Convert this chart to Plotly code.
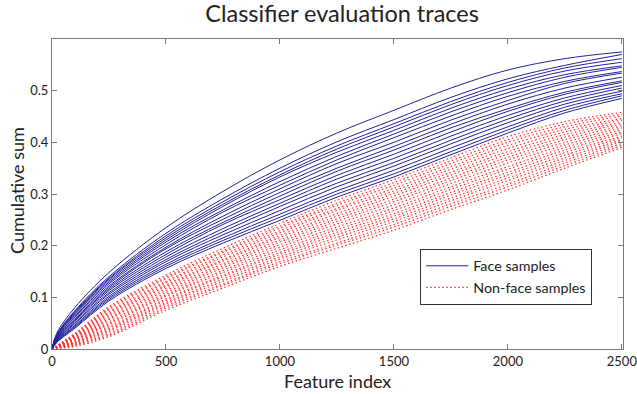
import plotly.graph_objects as go

feature_idx = [0, 20, 100, 250, 500, 750, 1000, 1250, 1500, 1750, 2000, 2250, 2500]

# Face samples (solid blue traces)
face_traces = [
    [0, .030, .080, .148, .235, .305, .366, .418, .462, .505, .540, .562, .575],
    [0, .027, .074, .140, .224, .291, .350, .401, .444, .487, .523, .549, .570],
    [0, .026, .072, .137, .219, .285, .343, .393, .436, .479, .516, .544, .562],
    [0, .026, .070, .135, .215, .280, .337, .387, .430, .473, .510, .538, .555],
    [0, .025, .068, .132, .211, .276, .333, .381, .423, .466, .503, .531, .548],
    [0, .024, .066, .129, .207, .269, .324, .373, .416, .459, .496, .526, .545],
    [0, .022, .063, .126, .202, .265, .317, .366, .409, .451, .489, .518, .537],
    [0, .021, .061, .122, .197, .257, .310, .359, .400, .443, .481, .514, .534],
    [0, .020, .058, .119, .194, .251, .303, .350, .392, .435, .474, .505, .526],
    [0, .019, .056, .116, .188, .245, .296, .344, .385, .428, .465, .497, .519],
    [0, .018, .054, .113, .183, .241, .289, .336, .377, .420, .460, .493, .516],
    [0, .017, .051, .109, .178, .233, .282, .329, .369, .412, .452, .486, .510],
    [0, .016, .049, .106, .173, .227, .276, .321, .361, .404, .445, .480, .505],
    [0, .015, .046, .102, .169, .221, .268, .314, .354, .397, .438, .474, .499],
    [0, .014, .044, .099, .164, .215, .261, .306, .346, .389, .430, .468, .494],
    [0, .013, .042, .096, .160, .210, .255, .300, .339, .382, .424, .462, .490],
    [0, .012, .040, .093, .156, .205, .249, .294, .333, .376, .418, .457, .485],
]

# Non-face samples (dotted red traces)
nonface_traces = [
    [0, .006, .030, .082, .143, .195, .243, .288, .328, .370, .411, .440, .458],
    [0, .006, .029, .079, .139, .190, .238, .282, .322, .364, .405, .435, .454],
    [0, .005, .027, .076, .136, .187, .234, .278, .317, .359, .400, .430, .451],
    [0, .005, .026, .072, .131, .182, .229, .272, .311, .353, .394, .425, .446],
    [0, .005, .025, .069, .128, .178, .225, .268, .306, .348, .388, .420, .443],
    [0, .005, .023, .066, .124, .173, .220, .262, .301, .342, .382, .415, .439],
    [0, .004, .022, .063, .121, .170, .216, .257, .296, .337, .377, .410, .436],
    [0, .004, .020, .059, .117, .165, .211, .252, .290, .331, .371, .405, .432],
    [0, .004, .019, .057, .113, .161, .207, .247, .285, .326, .366, .400, .428],
    [0, .004, .018, .053, .109, .157, .202, .242, .279, .320, .360, .395, .424],
    [0, .003, .016, .050, .105, .152, .197, .236, .273, .314, .353, .390, .420],
    [0, .003, .015, .047, .102, .148, .192, .231, .268, .309, .348, .385, .417],
    [0, .003, .013, .043, .097, .143, .187, .226, .262, .303, .342, .380, .412],
    [0, .002, .012, .040, .094, .140, .183, .221, .257, .298, .337, .375, .409],
    [0, .002, .011, .037, .090, .135, .178, .216, .252, .292, .331, .370, .405],
    [0, .002, .009, .034, .087, .131, .174, .211, .247, .287, .326, .365, .402],
    [0, .002, .008, .030, .083, .126, .169, .205, .241, .281, .319, .360, .398],
    [0, .001, .007, .027, .079, .123, .165, .201, .236, .276, .314, .355, .394],
    [0, .001, .005, .024, .075, .118, .160, .195, .230, .270, .308, .350, .390],
]

x_ticks = [0, 500, 1000, 1500, 2000, 2500]
y_ticks = [0, 0.1, 0.2, 0.3, 0.4, 0.5]
y_tick_text = ["0", "0.1", "0.2", "0.3", "0.4", "0.5"]

FONT = "Lato"
BLUE = "#22229c"
RED = "#ff2a2a"

fig = go.Figure()

for i, ys in enumerate(nonface_traces):
    fig.add_trace(go.Scatter(
        x=feature_idx, y=ys, mode="lines",
        line=dict(color=RED, width=1.2, dash="1.5px,2.5px", shape="spline", smoothing=1.0),
        name="Non-face samples", legendgroup="nonface",
        showlegend=(i == 0), legendrank=2,
    ))

for i, ys in enumerate(face_traces):
    fig.add_trace(go.Scatter(
        x=feature_idx, y=ys, mode="lines",
        line=dict(color=BLUE, width=1, shape="spline", smoothing=1.0),
        name="Face samples", legendgroup="face",
        showlegend=(i == 0), legendrank=1,
    ))

axis_common = dict(
    showline=True, linecolor="#7a7a7a", linewidth=1, mirror="ticks",
    ticks="inside", ticklen=5, tickcolor="#7a7a7a",
    showgrid=False, zeroline=False, ticklabeloverflow="allow", automargin=False,
    tickfont=dict(family=FONT, size=13, color="#222222"),
)

fig.update_layout(
    width=637, height=394,
    margin=dict(l=52, r=14, t=39, b=45, autoexpand=False),
    paper_bgcolor="white", plot_bgcolor="white",
    font=dict(family=FONT, color="#222222"),
    title=dict(text="Classifier evaluation traces", x=0.537, xanchor="center",
               y=1 - 14 / 394, yanchor="middle", yref="container",
               font=dict(family=FONT, size=23.5, color="#222222")),
    xaxis=dict(range=[0, 2505], tickvals=x_ticks, **axis_common),
    yaxis=dict(range=[0, 0.6], tickvals=y_ticks, ticktext=y_tick_text, **axis_common),
    legend=dict(x=0.645, y=0.3226, xanchor="left", yanchor="top",
                bgcolor="white", bordercolor="#333333", borderwidth=1,
                font=dict(family=FONT, size=14.3, color="#222222"),
                itemwidth=42,
                tracegroupgap=0, traceorder="normal"),
    showlegend=True,
    annotations=[
        dict(text="Feature index", xref="paper", yref="paper", x=0.5, y=-32 / 310,
             xanchor="center", yanchor="middle", showarrow=False,
             font=dict(family=FONT, size=18, color="#222222")),
        dict(text="Cumulative sum", xref="paper", yref="paper", x=-35 / 571, y=0.51,
             xanchor="center", yanchor="middle", textangle=-90, showarrow=False,
             font=dict(family=FONT, size=18, color="#222222")),
    ],
)

fig.write_html("out.html")
